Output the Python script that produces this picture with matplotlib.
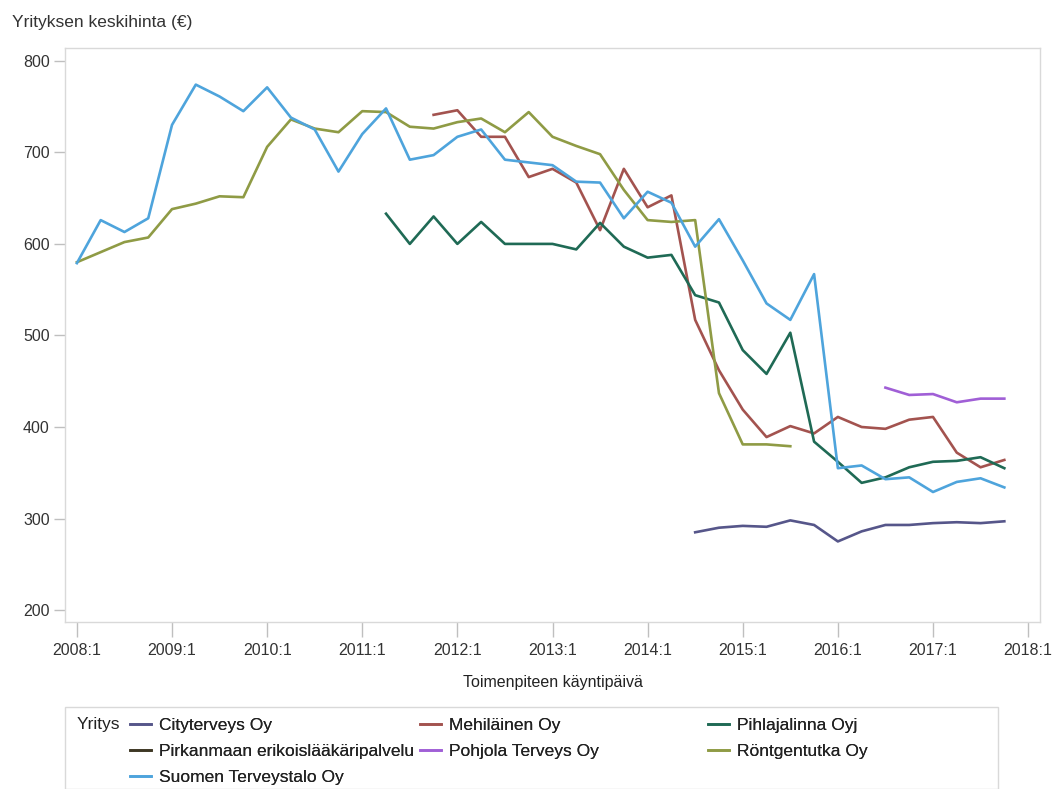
import numpy as np
import matplotlib
matplotlib.use("Agg")
from matplotlib import pyplot as plt
from matplotlib.patches import Rectangle

plt.rcParams['font.family'] = ['Liberation Sans', 'DejaVu Sans']

# quarters 2008:1 .. 2017:4
quarters = [f"{y}:{q}" for y in range(2008, 2018) for q in range(1, 5)]
n = len(quarters)
tick_labels = [f"{y}:1" for y in range(2008, 2019)]

nan = np.nan

city = [nan] * 26 + [285, 290, 292, 291, 298, 293, 275, 286, 293, 293, 295, 296, 295, 297]
mehilainen = [nan] * 15 + [741, 746, 717, 717, 673, 682, 667, 615, 682, 640, 653,
                            517, 462, 419, 389, 401, 393, 411, 400, 398, 408, 411,
                            372, 356, 364]
pihlajalinna = [nan] * 13 + [633, 600, 630, 600, 624, 600, 600, 600, 594, 623, 597,
                              585, 588, 544, 536, 484, 458, 503, 384, 362, 339, 345,
                              356, 362, 363, 367, 355]
pirkanmaa = [nan] * n
pohjola = [nan] * 34 + [443, 435, 436, 427, 431, 431]
rontgen = [580, 591, 602, 607, 638, 644, 652, 651, 706, 736, 726, 722, 745, 744,
           728, 726, 733, 737, 722, 744, 717, 707, 698, 659, 626, 624, 626, 437,
           381, 381, 379] + [nan] * 9
terveystalo = [579, 626, 613, 628, 730, 774, 761, 745, 771, 738, 725, 679, 720, 748,
               692, 697, 717, 725, 692, 689, 686, 668, 667, 628, 657, 645, 597, 627,
               582, 535, 517, 567, 355, 358, 343, 345, 329, 340, 344, 334]

series = [
    ("Cityterveys Oy", city, "#56568a"),
    ("Mehiläinen Oy", mehilainen, "#a3534f"),
    ("Pihlajalinna Oyj", pihlajalinna, "#1f6a55"),
    ("Pirkanmaan erikoislääkäripalvelu", pirkanmaa, "#3d3724"),
    ("Pohjola Terveys Oy", pohjola, "#a05fd6"),
    ("Röntgentutka Oy", rontgen, "#8f9b45"),
    ("Suomen Terveystalo Oy", terveystalo, "#4ea4dc"),
]

fig = plt.figure(figsize=(10.53, 7.89), dpi=100)
W, H = 1053, 789
ax = fig.add_axes([65 / W, 1 - 622 / H, (1040 - 65) / W, (622 - 48) / H])

x = np.arange(n)
lines = {}
for name, vals, col in series:
    ln, = ax.plot(x, np.array(vals, dtype=float), color=col, lw=1.9,
                  solid_joinstyle='round', label=name)
    lines[name] = ln

ax.set_xlim(-0.5, 40.5)
ax.set_ylim(187, 814)
ax.set_xticks(np.arange(0, 41, 4))
ax.set_xticklabels(tick_labels)
ax.set_yticks([200, 300, 400, 500, 600, 700, 800])

for sp in ax.spines.values():
    sp.set_color("#d9d9d9")
    sp.set_linewidth(1.0)
ax.tick_params(axis='x', direction='out', length=11, width=1, color="#bfbfbf",
               labelsize=11.5, labelcolor="#333333", pad=4)
ax.tick_params(axis='y', direction='out', length=8, width=1, color="#bfbfbf",
               labelsize=11.5, labelcolor="#333333", pad=3)

fig.text(12 / W, 1 - 22 / H, "Yrityksen keskihinta (€)", fontsize=12.5,
         color="#333333", va='center', ha='left')
fig.text(553 / W, 1 - 682 / H, "Toimenpiteen käyntipäivä", fontsize=11.5,
         color="#222222", va='center', ha='center')

# legend box
fig.patches.append(Rectangle((65 / W, 0), (998 - 65) / W, (789 - 707) / H,
                             transform=fig.transFigure, fill=False,
                             edgecolor="#d9d9d9", lw=1.0))
fig.text(77 / W, 1 - 724 / H, "Yritys", fontsize=12.5, color="#222222",
         va='center', ha='left')

columns = [
    (130, ["Cityterveys Oy", "Pirkanmaan erikoislääkäripalvelu", "Suomen Terveystalo Oy"]),
    (420, ["Mehiläinen Oy", "Pohjola Terveys Oy"]),
    (708, ["Pihlajalinna Oyj", "Röntgentutka Oy"]),
]
for x0, names in columns:
    leg = fig.legend([lines[k] for k in names], names, frameon=False,
                     loc='upper left', bbox_to_anchor=(x0 / W, 1 - 718 / H),
                     fontsize=12.5, handlelength=1.2, handletextpad=0.45,
                     labelspacing=0.62, borderaxespad=0, borderpad=0)
    for t in leg.get_texts():
        t.set_color("#222222")
    fig.add_artist(leg)

fig.savefig("out.png", dpi=100)
